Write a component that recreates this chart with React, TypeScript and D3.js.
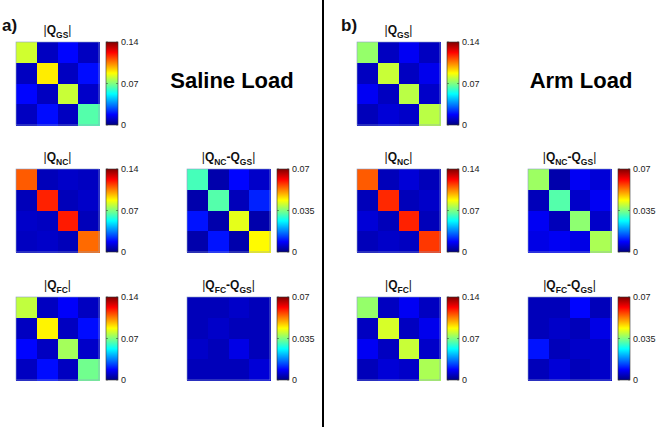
import React from "react";
import * as d3 from "d3";

// ---- data ----
const salineGS = [
  [0.081, 0.009, 0.018, 0.009],
  [0.009, 0.090, 0.009, 0.019],
  [0.018, 0.009, 0.080, 0.010],
  [0.009, 0.019, 0.009, 0.064],
];
const salineNC = [
  [0.110, 0.008, 0.010, 0.009],
  [0.008, 0.118, 0.008, 0.010],
  [0.010, 0.009, 0.119, 0.008],
  [0.009, 0.010, 0.008, 0.108],
];
const salineNCGS = [
  [0.031, 0.003, 0.009, 0.005],
  [0.003, 0.032, 0.004, 0.011],
  [0.010, 0.003, 0.042, 0.003],
  [0.003, 0.010, 0.003, 0.044],
];
const salineFC = [
  [0.079, 0.009, 0.017, 0.009],
  [0.009, 0.089, 0.009, 0.019],
  [0.018, 0.009, 0.075, 0.010],
  [0.009, 0.019, 0.009, 0.068],
];
const salineFCGS = [
  [0.004, 0.004, 0.005, 0.004],
  [0.004, 0.005, 0.004, 0.004],
  [0.005, 0.004, 0.007, 0.004],
  [0.004, 0.004, 0.004, 0.006],
];
const armGS = [
  [0.073, 0.009, 0.016, 0.009],
  [0.009, 0.080, 0.009, 0.015],
  [0.016, 0.009, 0.078, 0.010],
  [0.008, 0.012, 0.010, 0.078],
];
const armNC = [
  [0.110, 0.008, 0.012, 0.008],
  [0.008, 0.117, 0.008, 0.010],
  [0.012, 0.008, 0.118, 0.008],
  [0.008, 0.010, 0.009, 0.115],
];
const armNCGS = [
  [0.037, 0.003, 0.008, 0.006],
  [0.004, 0.032, 0.005, 0.008],
  [0.008, 0.004, 0.036, 0.005],
  [0.007, 0.008, 0.007, 0.038],
];
const armFC = [
  [0.073, 0.009, 0.016, 0.009],
  [0.009, 0.082, 0.009, 0.015],
  [0.016, 0.009, 0.080, 0.010],
  [0.008, 0.012, 0.010, 0.076],
];
const armFCGS = [
  [0.004, 0.004, 0.009, 0.004],
  [0.004, 0.005, 0.004, 0.007],
  [0.010, 0.004, 0.005, 0.005],
  [0.004, 0.006, 0.004, 0.005],
];

const ticksFull = ["0", "0.07", "0.14"];
const ticksHalf = ["0", "0.035", "0.07"];
const panelLabels = ["a)", "b)"];
const loadLabels = ["Saline Load", "Arm Load"];

const jetStops = [0, 1 / 8, 3 / 8, 5 / 8, 7 / 8, 1];
const jetColors = ["#000080", "#0000ff", "#00ffff", "#ffff00", "#ff0000", "#800000"];
const jet = d3.scaleLinear<string>().domain(jetStops).range(jetColors).interpolate(d3.interpolateRgb);

const FONT = "'Liberation Sans', Arial, Helvetica, sans-serif";
const SIZE = 83;

function Title({ cx, y, parts }: { cx: number; y: number; parts: string[] }) {
  const children: React.ReactNode[] = [];
  children.push(<tspan key="b0" fontWeight="normal">|</tspan>);
  parts.forEach((p, i) => {
    if (i > 0) children.push(<tspan key={"m" + i} dy={-3.5}>-</tspan>);
    children.push(<tspan key={"q" + i}>Q</tspan>);
    children.push(
      <tspan key={"s" + i} dy={3.5} fontSize={8.5}>
        {p}
      </tspan>
    );
  });
  children.push(<tspan key="b1" dy={-3.5} fontWeight="normal">|</tspan>);
  return (
    <text x={cx} y={y} textAnchor="middle" fontFamily={FONT} fontWeight="bold" fontSize={12} fill="#111">
      {children}
    </text>
  );
}

function Heatmap({
  x,
  y,
  data,
  max,
  ticks,
  parts,
  gid,
}: {
  x: number;
  y: number;
  data: number[][];
  max: number;
  ticks: string[];
  parts: string[];
  gid: string;
}) {
  const idx = d3.range(4);
  const bx = d3.scaleBand<number>().domain(idx).range([x, x + SIZE]);
  const by = d3.scaleBand<number>().domain(idx).range([y, y + SIZE]);
  const color = (v: number) => jet(Math.max(0, Math.min(1, v / max)));
  const cbX = x + 90;
  const cbW = 12;
  const cy = d3.scaleLinear().domain([0, max]).range([y + SIZE, y]);
  const tickVals = [0, max / 2, max];
  const stops = d3.range(0, 1.0001, 1 / 32);
  return (
    <g>
      <defs>
        <linearGradient id={gid} x1="0" y1="1" x2="0" y2="0">
          {stops.map((s, i) => (
            <stop key={i} offset={s} stopColor={jet(s)} />
          ))}
        </linearGradient>
      </defs>
      <Title cx={x + SIZE / 2} y={y - 8} parts={parts} />
      {data.map((row, r) =>
        row.map((v, c) => (
          <rect
            key={r + "-" + c}
            x={bx(c)}
            y={by(r)}
            width={bx.bandwidth() + 1}
            height={by.bandwidth() + 1}
            fill={color(v)}
            shapeRendering="crispEdges"
          />
        ))
      )}
      <rect x={x} y={y} width={SIZE} height={SIZE} fill="none" stroke="#8ea0c8" strokeWidth={0.6} />
      <rect x={cbX} y={y} width={cbW} height={SIZE} fill={`url(#${gid})`} stroke="#333" strokeWidth={0.6} />
      {tickVals.map((t, i) => (
        <g key={i}>
          <line x1={cbX} x2={cbX + 2} y1={cy(t)} y2={cy(t)} stroke="#333" strokeWidth={0.5} />
          <line x1={cbX + cbW - 2} x2={cbX + cbW} y1={cy(t)} y2={cy(t)} stroke="#333" strokeWidth={0.5} />
          <text x={cbX + cbW + 3} y={cy(t)} dy="0.35em" fontFamily={FONT} fontSize={9} fill="#222">
            {ticks[i]}
          </text>
        </g>
      ))}
    </g>
  );
}

export default function App() {
  const cols = [16, 187, 357, 528];
  const rows = [42, 169, 297];
  return (
    <svg width={659} height={427} style={{ position: "absolute", left: 0, top: 0, background: "#fff" }}>
      <rect x={0} y={0} width={659} height={427} fill="#fff" />
      <text x={2} y={31} fontFamily={FONT} fontWeight="bold" fontSize={17} fill="#111">
        {panelLabels[0]}
      </text>
      <text x={341} y={31} fontFamily={FONT} fontWeight="bold" fontSize={17} fill="#111">
        {panelLabels[1]}
      </text>
      <text x={232} y={88} textAnchor="middle" fontFamily={FONT} fontWeight="bold" fontSize={22} fill="#000">
        {loadLabels[0]}
      </text>
      <text x={581} y={88} textAnchor="middle" fontFamily={FONT} fontWeight="bold" fontSize={22} fill="#000">
        {loadLabels[1]}
      </text>
      <line x1={323} x2={323} y1={0} y2={427} stroke="#000" strokeWidth={2} />

      <Heatmap x={cols[0]} y={rows[0]} data={salineGS} max={0.14} ticks={ticksFull} parts={["GS"]} gid="g1" />
      <Heatmap x={cols[0]} y={rows[1]} data={salineNC} max={0.14} ticks={ticksFull} parts={["NC"]} gid="g2" />
      <Heatmap x={cols[1]} y={rows[1]} data={salineNCGS} max={0.07} ticks={ticksHalf} parts={["NC", "GS"]} gid="g3" />
      <Heatmap x={cols[0]} y={rows[2]} data={salineFC} max={0.14} ticks={ticksFull} parts={["FC"]} gid="g4" />
      <Heatmap x={cols[1]} y={rows[2]} data={salineFCGS} max={0.07} ticks={ticksHalf} parts={["FC", "GS"]} gid="g5" />

      <Heatmap x={cols[2]} y={rows[0]} data={armGS} max={0.14} ticks={ticksFull} parts={["GS"]} gid="g6" />
      <Heatmap x={cols[2]} y={rows[1]} data={armNC} max={0.14} ticks={ticksFull} parts={["NC"]} gid="g7" />
      <Heatmap x={cols[3]} y={rows[1]} data={armNCGS} max={0.07} ticks={ticksHalf} parts={["NC", "GS"]} gid="g8" />
      <Heatmap x={cols[2]} y={rows[2]} data={armFC} max={0.14} ticks={ticksFull} parts={["FC"]} gid="g9" />
      <Heatmap x={cols[3]} y={rows[2]} data={armFCGS} max={0.07} ticks={ticksHalf} parts={["FC", "GS"]} gid="g10" />
    </svg>
  );
}
